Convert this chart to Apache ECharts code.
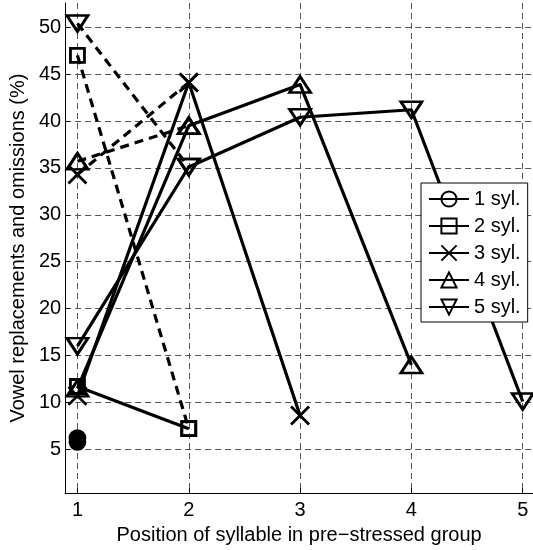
<!DOCTYPE html>
<html>
<head>
<meta charset="utf-8">
<script src="https://cdn.jsdelivr.net/npm/echarts@6/dist/echarts.min.js"></script>
<style>
  html, body { margin: 0; padding: 0; background: #fff; }
  #chart { width: 533px; height: 550px; }
</style>
</head>
<body>
<div id="chart"></div>
<script>
// tick labels
const xTicks = [1, 2, 3, 4, 5]
const yTicks = [5, 10, 15, 20, 25, 30, 35, 40, 45, 50]

// solid lines
const syl1Solid = [6.2]
const syl2Solid = [11.7, 7.2]
const syl3Solid = [10.7, 44.1, 8.6]
const syl4Solid = [11.5, 39.5, 43.9, 14.0]
const syl5Solid = [16.0, 35.1, 40.4, 41.2, 10.1]

// dashed lines (only position 1 -> 2)
const syl1Dashed = [5.8]
const syl2Dashed = [47.0, 7.2]
const syl3Dashed = [34.3, 44.1]
const syl4Dashed = [35.7, 39.5]
const syl5Dashed = [50.4, 35.1]

const names = ['1 syl.', '2 syl.', '3 syl.', '4 syl.', '5 syl.']

const symbols = [
  'circle',
  'rect',
  'path://M0,0L10,10M10,0L0,10',
  'path://M6,0L12,9L0,9Z',
  'path://M0,0L12,0L6,9Z',
]
const sizes = [15, 14, 18, [21, 16], [21, 16]]

const font = 'Liberation Sans, Arial, Helvetica, sans-serif'

function pts(vals) {
  return vals.map((v, i) => [xTicks[i], v])
}

function makeSeries(idx, vals, dashed) {
  const s = {
    name: dashed ? names[idx] + ' b' : names[idx],
    type: 'line',
    data: pts(vals),
    symbol: symbols[idx],
    symbolSize: sizes[idx],
    showAllSymbol: true,
    lineStyle: {
      color: '#000',
      width: 3.2,
      type: dashed ? [9, 6] : 'solid',
    },
    itemStyle: {
      color: 'rgba(0,0,0,0)',
      borderColor: '#000',
      borderWidth: 2.8,
    },
    emphasis: { disabled: true },
    z: 3,
  }
  // 1 syl. point is drawn filled
  if (idx === 0) {
    s.data = s.data.map(p => ({ value: p, itemStyle: { color: '#000' } }))
  }
  return s
}

const series = [
  makeSeries(0, syl1Dashed, true),
  makeSeries(1, syl2Dashed, true),
  makeSeries(2, syl3Dashed, true),
  makeSeries(3, syl4Dashed, true),
  makeSeries(4, syl5Dashed, true),
  makeSeries(0, syl1Solid, false),
  makeSeries(1, syl2Solid, false),
  makeSeries(2, syl3Solid, false),
  makeSeries(3, syl4Solid, false),
  makeSeries(4, syl5Solid, false),
]

const gridLine = {
  show: true,
  lineStyle: { color: '#555', width: 1, type: [6, 4] },
}

const chart = echarts.init(document.getElementById('chart'))
chart.setOption({
  animation: false,
  backgroundColor: '#fff',
  grid: { left: 65, right: 0, top: 3, bottom: 54.3 },
  legend: {
    data: names,
    orient: 'vertical',
    left: 421,
    top: 183,
    padding: [6, 7, 5, 7],
    itemGap: 7,
    itemWidth: 40,
    itemHeight: 19,
    borderColor: '#000',
    borderWidth: 1,
    borderRadius: 0,
    backgroundColor: '#fff',
    selectedMode: false,
    textStyle: { fontFamily: font, fontSize: 20, color: '#000' },
  },
  xAxis: {
    type: 'value',
    min: 0.8895,
    max: 5.0925,
    name: 'Position of syllable in pre\u2212stressed group',
    nameLocation: 'middle',
    nameGap: 25,
    nameTextStyle: { fontFamily: font, fontSize: 20, color: '#000' },
    axisLine: { onZero: false, lineStyle: { color: '#000', width: 1 } },
    axisTick: { inside: true, length: 5, customValues: xTicks, lineStyle: { color: '#000' } },
    axisLabel: { customValues: xTicks, margin: 7, fontFamily: font, fontSize: 20, color: '#000' },
    splitLine: gridLine,
  },
  yAxis: {
    type: 'value',
    min: 0.335,
    max: 52.58,
    name: 'Vowel replacements and omissions (%)',
    nameLocation: 'middle',
    nameGap: 30,
    nameTextStyle: { fontFamily: font, fontSize: 20, color: '#000' },
    axisLine: { show: true, onZero: false, lineStyle: { color: '#000', width: 1 } },
    axisTick: { show: true, inside: true, length: 5, customValues: yTicks, lineStyle: { color: '#000' } },
    axisLabel: { customValues: yTicks, margin: 4, fontFamily: font, fontSize: 20, color: '#000' },
    splitLine: gridLine,
  },
  series,
})
</script>
</body>
</html>
